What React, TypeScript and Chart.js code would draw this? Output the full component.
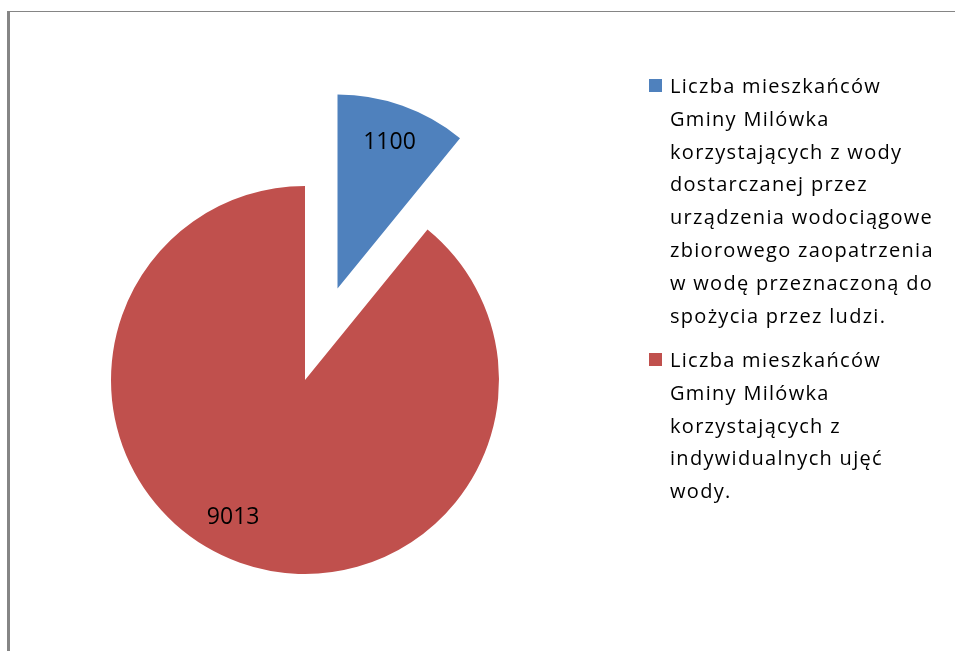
import React, { useEffect, useRef } from "react";
import { Chart, registerables } from "chart.js";

Chart.register(...registerables);

const categories: string[][] = [
  [
    "Liczba mieszkańców",
    "Gminy Milówka",
    "korzystających z wody",
    "dostarczanej przez",
    "urządzenia wodociągowe",
    "zbiorowego zaopatrzenia",
    "w wodę przeznaczoną do",
    "spożycia przez ludzi.",
  ],
  [
    "Liczba mieszkańców",
    "Gminy Milówka",
    "korzystających z",
    "indywidualnych ujęć",
    "wody.",
  ],
];
const values: number[] = [1100, 9013];
const colors: string[] = ["#4F81BD", "#C0504D"];
// desired outward shift of each slice, in pixels
const explode: number[] = [97, 0];
const labelAngleAdjust: number[] = [0, 8];

const LEGEND_FONT = "20px 'Open Sans'";
const LABEL_FONT = "23px 'Open Sans'";
const PIE_RADIUS = 194;

// Chart.js translates an arc by offset/4
const offsetOption = explode.map((e) => 4 * e);

const extrasPlugin = {
  id: "extras",
  beforeDraw(chart: any) {
    const ctx = chart.ctx;
    ctx.save();
    ctx.fillStyle = "#858585";
    ctx.fillRect(7, 11, chart.width - 7, 1);
    ctx.fillRect(7, 11, 3, chart.height - 11);
    ctx.restore();
  },
  afterDatasetUpdate(chart: any, args: any) {
    // Chart.js grows an offset arc's radius by offset/4 * fix and trims its
    // angle slightly; undo both so the exploded slice keeps its true shape
    const meta = args.meta;
    const base = meta.controller.outerRadius;
    meta.data.forEach((arc: any, i: number) => {
      const off = offsetOption[i] / 4;
      if (!off) return;
      const fix = 1 - Math.sin(Math.min(Math.PI, arc.circumference || 0));
      const radiusOffset = off * fix;
      arc.outerRadius = base - radiusOffset;
      const trim = radiusOffset / Math.PI / base;
      arc.startAngle -= trim / 2;
      arc.endAngle += trim / 2;
    });
  },
  afterDraw(chart: any) {
    const ctx = chart.ctx;
    const meta = chart.getDatasetMeta(0);
    const base = meta.controller.outerRadius;
    ctx.save();
    // data labels
    ctx.font = LABEL_FONT;
    ctx.fillStyle = "#000";
    ctx.textAlign = "center";
    ctx.textBaseline = "middle";
    meta.data.forEach((arc: any, i: number) => {
      const p = arc.getProps(["x", "y", "startAngle", "endAngle"], true);
      const mid = (p.startAngle + p.endAngle) / 2 + (labelAngleAdjust[i] * Math.PI) / 180;
      const d = explode[i] + base * 0.8;
      ctx.fillText(String(values[i]), p.x + Math.cos(mid) * d, p.y + Math.sin(mid) * d);
    });
    // legend
    const lx = 649;
    let by = 93;
    const lineH = 32.8;
    const gap = 11.6;
    ctx.font = LEGEND_FONT;
    ctx.textAlign = "left";
    ctx.textBaseline = "alphabetic";
    (ctx as any).letterSpacing = "1.3px";
    categories.forEach((lines, i) => {
      ctx.fillStyle = colors[i];
      ctx.fillRect(lx, by - 14, 13, 13);
      ctx.fillStyle = "#000";
      lines.forEach((ln, j) => {
        ctx.fillText(ln, lx + 21, by + j * lineH);
      });
      by += lines.length * lineH + gap;
    });
    ctx.restore();
  },
};

export default function App() {
  const ref = useRef<HTMLCanvasElement | null>(null);
  useEffect(() => {
    if (!ref.current) return;
    const chart = new Chart(ref.current, {
      type: "pie",
      data: {
        labels: categories,
        datasets: [
          {
            data: values,
            backgroundColor: colors,
            borderWidth: 0,
            offset: offsetOption,
          },
        ],
      },
      options: {
        responsive: true,
        maintainAspectRatio: false,
        animation: false,
        radius: PIE_RADIUS,
        layout: { padding: { left: 100, right: 445, top: 170, bottom: 61 } },
        plugins: {
          legend: { display: false },
          tooltip: { enabled: false },
        },
      } as any,
      plugins: [extrasPlugin],
    });
    return () => chart.destroy();
  }, []);
  return (
    <div style={{ position: "fixed", left: 0, top: 0, width: 955, height: 651, background: "#fff" }}>
      <canvas ref={ref} />
    </div>
  );
}
